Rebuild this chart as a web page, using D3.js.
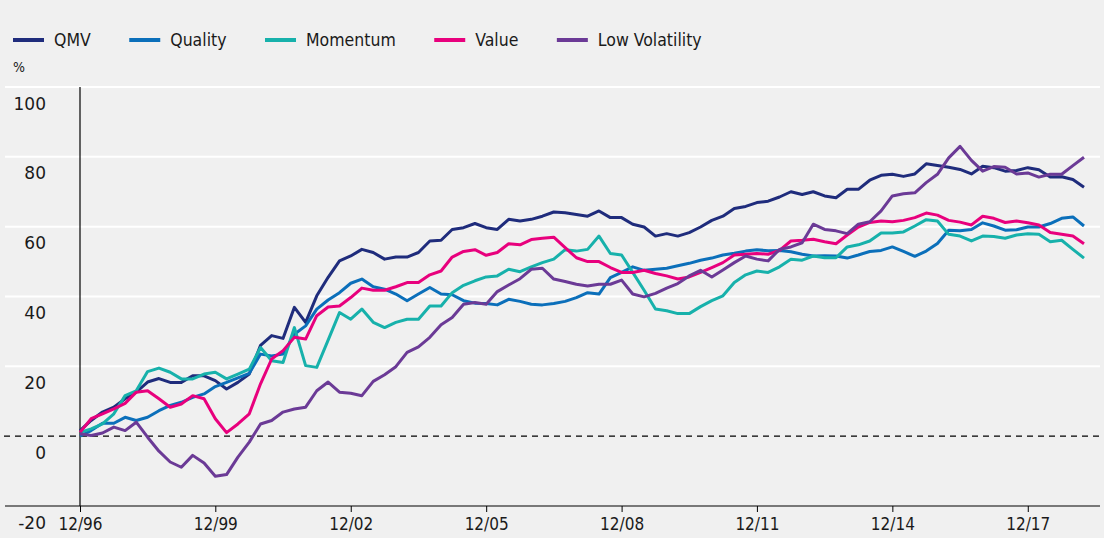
<!DOCTYPE html>
<html>
<head>
<meta charset="utf-8">
<script src="https://cdn.jsdelivr.net/npm/d3@7"></script>
<style>
  html, body { margin: 0; padding: 0; background: #f0f0f0; }
  svg { display: block; }
</style>
</head>
<body>
<div id="chart"></div>
<script>
// quarterly values, 12/96 .. 03/19 (%)
const qmv = [1.6, 4.5, 6.9, 8.3, 10.7, 12.6, 15.5, 16.5, 15.4, 15.4, 17.3, 17.3, 15.9, 13.5, 15.4, 17.8, 26, 28.8, 28, 36.9, 32.6, 40.2, 45.5,
  50.2, 51.6, 53.5, 52.6, 50.7, 51.3, 51.3, 52.6, 55.9, 56.1, 59.2, 59.7, 60.9, 59.7, 59.2, 62.1, 61.6, 62.1, 63, 64.2, 64, 63.5,
  63, 64.5, 62.6, 62.6, 60.7, 59.9, 57.3, 58, 57.3, 58.3, 59.9, 61.8, 63, 65.2, 65.8, 66.9, 67.3, 68.5, 70, 69.2, 70, 68.8,
  68.3, 70.7, 70.7, 73.3, 74.7, 75, 74.4, 75.1, 78, 77.5, 77, 76.4, 75.1, 77.3, 76.9, 75.9, 76.1, 76.9, 76.3, 74.2, 74.3, 73.5, 71.3];
const quality = [0, 1.6, 3.7, 3.7, 5.4, 4.5, 5.4, 7.3, 8.8, 9.7, 11.1, 12.1, 14.2, 15.4, 16.7, 18, 23.5, 23, 23.5, 29.2, 31.6, 36.4, 39,
  41.1, 43.8, 45, 42.8, 42.1, 40.7, 38.8, 40.7, 42.6, 40.7, 40.5, 38.8, 38.1, 38, 37.6, 39.2, 38.6, 37.8, 37.6, 38, 38.6, 39.7,
  41.1, 40.7, 45.4, 46.9, 48.5, 47.5, 47.8, 48.1, 48.8, 49.5, 50.4, 51, 51.9, 52.4, 53, 53.4, 53.1, 53.2, 52.8, 52.1, 51.6, 51.7,
  51.6, 51, 51.9, 52.9, 53.2, 54.2, 52.9, 51.5, 53, 55.2, 59, 58.8, 59.2, 61.1, 60.2, 59, 59.1, 59.9, 59.9, 60.9, 62.4, 62.8, 60.2];
const momentum = [1.1, 2.1, 3.5, 6.4, 11.6, 13, 18.5, 19.5, 18.3, 16.4, 16.4, 17.8, 18.3, 16.4, 17.8, 19.2, 25.4, 21.6, 21.1, 31.1, 20.2, 19.7, 27.5,
  35.4, 33.5, 36.4, 32.6, 31.1, 32.6, 33.5, 33.5, 37.3, 37.3, 41.1, 43.2, 44.5, 45.6, 45.9, 47.8, 47.1, 48.5, 49.7, 50.7, 53.4, 53,
  53.5, 57.3, 52.3, 51.9, 46.9, 41.8, 36.4, 35.9, 35.1, 35.1, 37.1, 38.8, 40.2, 44, 46.2, 47.3, 46.9, 48.5, 50.7, 50.4, 51.6, 51.1,
  51.1, 54.2, 54.8, 55.9, 58.2, 58.2, 58.5, 60.2, 62, 61.6, 57.8, 57.3, 55.9, 57.3, 57.2, 56.7, 57.6, 58, 57.8, 55.7, 56.1, 53.5, 51];
const value = [1.1, 5, 6.4, 7.8, 9.4, 12.6, 13, 10.7, 8.3, 9.2, 11.6, 10.7, 5, 1, 3.5, 6.4, 15, 22.1, 24.5, 28.3, 27.8, 34.5, 37,
  37.3, 39.7, 42.4, 41.8, 41.8, 42.8, 44, 44, 46.2, 47.3, 51.3, 52.9, 53.4, 51.8, 52.6, 55.1, 54.8, 56.3, 56.7, 57, 54, 51.1,
  50, 50, 48.3, 46.9, 46.9, 47.5, 46.6, 45.9, 45, 45.6, 46.9, 48.3, 49.7, 51.9, 52.1, 52.3, 52.1, 53.2, 55.9, 56.1, 56.4, 55.7,
  55.1, 57.6, 59.9, 61.2, 61.6, 61.4, 61.8, 62.6, 63.9, 63.3, 61.8, 61.3, 60.5, 63, 62.4, 61.2, 61.6, 61.1, 60.5, 58.3, 57.8, 57.3, 55.1];
const lowVol = [0.7, 0.2, 0.9, 2.6, 1.6, 4, -0.3, -4.3, -7.4, -8.9, -5.5, -7.7, -11.5, -11, -6, -1.7, 3.5, 4.5, 6.9, 7.8, 8.3, 13, 15.5,
  12.6, 12.3, 11.6, 15.7, 17.6, 19.9, 24, 25.6, 28.3, 31.9, 34, 37.8, 38.3, 37.8, 41.4, 43.3, 45.1, 47.8, 48.1, 45, 44.3, 43.5,
  43, 43.5, 43.5, 44.7, 40.7, 39.9, 40.9, 42.4, 43.7, 45.9, 47.5, 45.6, 47.6, 49.7, 51.6, 50.7, 50.2, 53.5, 54.2, 55.4, 60.7, 59.2,
  58.8, 58, 60.7, 61.4, 64.5, 68.8, 69.4, 69.7, 72.6, 75, 79.7, 83, 79, 75.9, 77.2, 77, 75.1, 75.4, 74.2, 75, 75, 77.5, 79.9];

const seriesNames = ['QMV', 'Quality', 'Momentum', 'Value', 'Low Volatility'];
const seriesColors = ['#1f2c7c', '#0b6fba', '#17b1ab', '#e8007d', '#6b3a96'];
const seriesValues = [qmv, quality, momentum, value, lowVol];

const xTickLabels = ['12/96', '12/99', '12/02', '12/05', '12/08', '12/11', '12/14', '12/17'];
const yTicks = [-20, 0, 20, 40, 60, 80, 100];

const width = 1104, height = 538;
const startDate = new Date(1996, 11, 1);
const dates = qmv.map((d, i) => d3.timeMonth.offset(startDate, i * 3));
const tickDates = xTickLabels.map((d, i) => d3.timeYear.offset(startDate, i * 3));

const x = d3.scaleTime()
    .domain([startDate, dates[dates.length - 1]])
    .range([80, 1084]);
const y = d3.scaleLinear()
    .domain([-20, 100])
    .range([506, 87]);

const svg = d3.select('#chart').append('svg')
    .attr('width', width)
    .attr('height', height);

svg.append('rect')
    .attr('width', width)
    .attr('height', height)
    .attr('fill', '#f0f0f0');

// title, mostly cut off at the top
svg.append('text')
    .attr('x', 13)
    .attr('y', 0)
    .attr('fill', '#a0a0a0')
    .style('font-family', 'DejaVu Sans Condensed')
    .style('font-size', '17px')
    .text('Cumulative excess returns');

// gridlines
svg.append('g')
    .selectAll('line')
    .data(yTicks.filter(d => d > 0))
    .enter()
    .append('line')
    .attr('x1', 5)
    .attr('x2', 1100)
    .attr('y1', d => y(d))
    .attr('y2', d => y(d))
    .attr('stroke', '#ffffff')
    .attr('stroke-width', 2);

// zero line
svg.append('line')
    .attr('x1', 4)
    .attr('x2', 1100)
    .attr('y1', y(0))
    .attr('y2', y(0))
    .attr('stroke', '#000')
    .attr('stroke-width', 1.2)
    .attr('stroke-dasharray', '6,5');

// y labels (sit below their line)
const yAxis = svg.append('g')
    .attr('transform', 'translate(80,0)')
    .call(d3.axisLeft(y).tickValues(yTicks).tickFormat(d => String(d)).tickSize(0).tickPadding(34));
yAxis.select('.domain').remove();
yAxis.selectAll('text')
    .attr('dy', null)
    .attr('y', 22)
    .attr('fill', '#1a1a1a')
    .style('font-family', 'DejaVu Sans')
    .style('font-size', '17px');

// x axis
const xAxis = svg.append('g')
    .attr('transform', `translate(0,${y(-20)})`)
    .call(d3.axisBottom(x)
        .tickValues(tickDates)
        .tickFormat((d, i) => xTickLabels[i])
        .tickSize(6)
        .tickSizeOuter(0)
        .tickPadding(6));
xAxis.select('.domain').remove();
xAxis.selectAll('line').attr('stroke', '#000');
xAxis.selectAll('text')
    .attr('fill', '#1a1a1a')
    .style('font-family', 'DejaVu Sans Condensed')
    .style('font-size', '17px');

svg.append('line')
    .attr('x1', 5)
    .attr('x2', 1100)
    .attr('y1', y(-20))
    .attr('y2', y(-20))
    .attr('stroke', '#000')
    .attr('stroke-width', 1.2);

svg.append('line')
    .attr('x1', x(startDate))
    .attr('x2', x(startDate))
    .attr('y1', y(100))
    .attr('y2', y(-20))
    .attr('stroke', '#000')
    .attr('stroke-width', 1.2);

// lines
const line = d3.line()
    .x((d, i) => x(dates[i]))
    .y(d => y(d));

seriesValues.forEach((vals, k) => {
    svg.append('path')
        .datum(vals)
        .attr('fill', 'none')
        .attr('stroke', seriesColors[k])
        .attr('stroke-width', 3)
        .attr('stroke-linejoin', 'round')
        .attr('d', line);
});

// legend
let lx = 13;
seriesNames.forEach((name, k) => {
    svg.append('line')
        .attr('x1', lx)
        .attr('x2', lx + 31)
        .attr('y1', 40)
        .attr('y2', 40)
        .attr('stroke', seriesColors[k])
        .attr('stroke-width', 4);
    const t = svg.append('text')
        .attr('x', lx + 41)
        .attr('y', 46)
        .attr('fill', '#1a1a1a')
        .style('font-family', 'DejaVu Sans Condensed')
        .style('font-size', '17.5px')
        .text(name);
    lx += 41 + t.node().getComputedTextLength() + 38.5;
});

svg.append('text')
    .attr('x', 13)
    .attr('y', 72)
    .attr('fill', '#1a1a1a')
    .style('font-family', 'DejaVu Sans Condensed')
    .style('font-size', '14px')
    .text('%');
</script>
</body>
</html>
